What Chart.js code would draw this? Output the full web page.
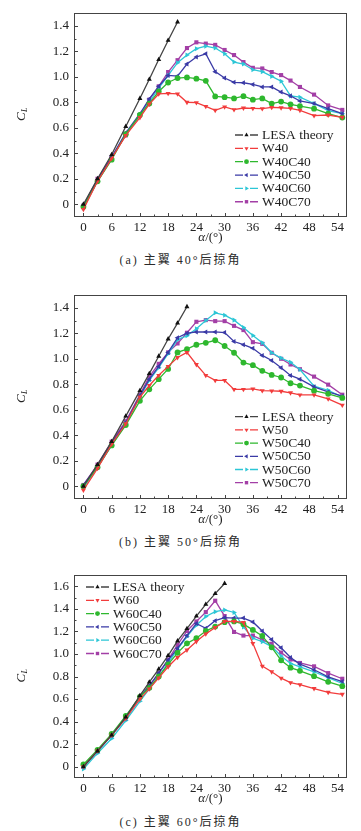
<!DOCTYPE html>
<html>
<head>
<meta charset="utf-8">
<script src="https://cdn.jsdelivr.net/npm/chart.js@4.4.0/dist/chart.umd.min.js"></script>
<style>
  html, body { margin: 0; padding: 0; background: #fff; }
  body { width: 361px; height: 831px; position: relative; overflow: hidden; }
  canvas { position: absolute; left: 0; }
  .cap {
    position: absolute; left: 0; width: 361px; text-align: center;
    font: 12px 'Liberation Serif', 'Noto Sans CJK SC', serif;
    color: #2a2a2a; letter-spacing: 2px;
  }
</style>
</head>
<body>
<canvas id="ca" width="361" height="250" style="top:0"></canvas>
<div class="cap" style="top:250px">(a) 主翼 40°后掠角</div>
<canvas id="cb" width="361" height="250" style="top:280px"></canvas>
<div class="cap" style="top:532px">(b) 主翼 50°后掠角</div>
<canvas id="cc" width="361" height="250" style="top:560px"></canvas>
<div class="cap" style="top:812px">(c) 主翼 60°后掠角</div>

<script>
// angle of attack, deg (shared by all series)
const alpha = [0, 3, 6, 9, 12, 14, 16, 18, 20, 22, 24, 26, 28, 30, 32, 34, 36, 38, 40, 42, 44, 46, 49, 52, 55];
const xTicks = [0, 6, 12, 18, 24, 30, 36, 42, 48, 54];
const yTicksAB = [0, 0.2, 0.4, 0.6, 0.8, 1.0, 1.2, 1.4];
const yTicksC = [0, 0.2, 0.4, 0.6, 0.8, 1.0, 1.2, 1.4, 1.6];

// (a) 40 deg sweep
const lesaA = [0, 0.20, 0.39, 0.61, 0.83, 0.98, 1.135, 1.285, 1.43];
const w40 = [-0.04, 0.18, 0.36, 0.54, 0.68, 0.785, 0.865, 0.87, 0.865, 0.80, 0.797, 0.768, 0.737, 0.763, 0.742, 0.755, 0.752, 0.75, 0.76, 0.757, 0.752, 0.737, 0.695, 0.70, 0.682];
const w40c40 = [-0.02, 0.18, 0.35, 0.55, 0.70, 0.79, 0.885, 0.955, 0.99, 0.995, 0.985, 0.968, 0.846, 0.84, 0.83, 0.848, 0.82, 0.83, 0.79, 0.805, 0.784, 0.77, 0.75, 0.71, 0.68];
const w40c50 = [-0.01, 0.19, 0.37, 0.56, 0.71, 0.826, 0.925, 1.01, 1.005, 1.10, 1.155, 1.18, 1.04, 0.99, 0.956, 0.953, 0.94, 0.92, 0.92, 0.88, 0.85, 0.81, 0.79, 0.75, 0.71];
const w40c60 = [-0.03, 0.18, 0.36, 0.55, 0.70, 0.80, 0.91, 1.01, 1.11, 1.17, 1.22, 1.24, 1.225, 1.18, 1.115, 1.10, 1.055, 1.04, 1.003, 0.965, 0.85, 0.84, 0.79, 0.735, 0.71];
const w40c70 = [-0.01, 0.20, 0.37, 0.54, 0.70, 0.82, 0.925, 1.037, 1.13, 1.225, 1.27, 1.26, 1.25, 1.21, 1.17, 1.115, 1.07, 1.065, 1.037, 1.013, 0.97, 0.92, 0.86, 0.775, 0.74];

// (b) 50 deg sweep
const lesaB = [0, 0.17, 0.35, 0.55, 0.75, 0.883, 1.02, 1.155, 1.28, 1.408];
const w50 = [-0.03, 0.14, 0.33, 0.49, 0.70, 0.79, 0.87, 0.94, 1.01, 1.05, 0.955, 0.87, 0.83, 0.83, 0.76, 0.76, 0.764, 0.75, 0.748, 0.745, 0.733, 0.717, 0.717, 0.685, 0.636];
const w50c40 = [0.0, 0.15, 0.32, 0.48, 0.67, 0.76, 0.84, 0.92, 1.05, 1.075, 1.11, 1.125, 1.145, 1.10, 1.047, 0.97, 0.95, 0.905, 0.873, 0.853, 0.808, 0.79, 0.75, 0.725, 0.693];
const w50c50 = [0.01, 0.16, 0.34, 0.50, 0.71, 0.84, 0.94, 1.05, 1.165, 1.20, 1.21, 1.21, 1.21, 1.205, 1.135, 1.11, 1.082, 1.026, 0.986, 0.93, 0.869, 0.84, 0.78, 0.74, 0.706];
const w50c60 = [-0.01, 0.15, 0.32, 0.49, 0.70, 0.83, 0.93, 1.04, 1.15, 1.18, 1.235, 1.30, 1.36, 1.342, 1.303, 1.245, 1.183, 1.125, 1.047, 1.005, 0.973, 0.916, 0.785, 0.753, 0.70];
const w50c70 = [0.01, 0.17, 0.35, 0.51, 0.72, 0.86, 0.96, 1.05, 1.12, 1.204, 1.29, 1.303, 1.295, 1.295, 1.258, 1.225, 1.13, 1.117, 1.047, 1.0, 0.955, 0.918, 0.86, 0.797, 0.718];

// (c) 60 deg sweep
const lesaC = [0, 0.14, 0.28, 0.44, 0.63, 0.75, 0.865, 0.985, 1.115, 1.225, 1.335, 1.44, 1.535, 1.625];
const w60 = [0.0, 0.14, 0.28, 0.43, 0.60, 0.69, 0.788, 0.886, 0.97, 1.035, 1.11, 1.178, 1.234, 1.288, 1.288, 1.28, 1.094, 0.892, 0.842, 0.785, 0.745, 0.728, 0.693, 0.66, 0.642];
const w60c40 = [0.02, 0.15, 0.29, 0.45, 0.62, 0.70, 0.80, 0.907, 1.01, 1.094, 1.139, 1.204, 1.243, 1.282, 1.288, 1.264, 1.213, 1.16, 1.059, 0.943, 0.878, 0.85, 0.803, 0.753, 0.714];
const w60c50 = [0.01, 0.14, 0.28, 0.43, 0.62, 0.72, 0.83, 0.946, 1.05, 1.163, 1.27, 1.228, 1.295, 1.322, 1.318, 1.318, 1.284, 1.204, 1.127, 1.055, 0.968, 0.91, 0.86, 0.797, 0.755];
const w60c60 = [-0.02, 0.12, 0.25, 0.41, 0.58, 0.69, 0.80, 0.92, 1.04, 1.154, 1.255, 1.332, 1.375, 1.39, 1.368, 1.24, 1.139, 1.109, 1.065, 0.982, 0.916, 0.886, 0.842, 0.79, 0.738];
const w60c70 = [0.0, 0.14, 0.28, 0.44, 0.62, 0.71, 0.83, 0.95, 1.08, 1.204, 1.288, 1.371, 1.472, 1.336, 1.195, 1.163, 1.163, 1.124, 1.09, 1.012, 0.95, 0.92, 0.89, 0.83, 0.78];

// marker/line styles in legend order
const styles = [
  { line: '#444', mark: '#111', pointStyle: 'triangle', rot: 0 },
  { line: '#f23c3c', mark: '#f23c3c', pointStyle: 'triangle', rot: 180 },
  { line: '#2eb82e', mark: '#2eb82e', pointStyle: 'circle', rot: 0 },
  { line: '#3a3aa6', mark: '#3a3aa6', pointStyle: 'triangle', rot: -90 },
  { line: '#2cc6d6', mark: '#2cc6d6', pointStyle: 'triangle', rot: 90 },
  { line: '#a33fa6', mark: '#a33fa6', pointStyle: 'rect', rot: 0 }
];

const SERIF = '"Liberation Serif", "Times New Roman", serif';

const framePlugin = {
  id: 'frame',
  afterDatasetsDraw(chart, args, o) {
    const { ctx, chartArea: a, scales: { x, y } } = chart;
    ctx.save();
    ctx.strokeStyle = '#444';
    ctx.lineWidth = 1;
    ctx.strokeRect(Math.round(a.left) + 0.5, Math.round(a.top) + 0.5,
      Math.round(a.right - a.left) - 1, Math.round(a.bottom - a.top) - 1);

    // inward ticks, major + minor
    ctx.beginPath();
    o.yTicks.forEach(v => {
      const py = Math.round(y.getPixelForValue(v)) + 0.5;
      ctx.moveTo(a.left, py); ctx.lineTo(a.left + 4, py);
      const m = Math.round(y.getPixelForValue(v + 0.1)) + 0.5;
      if (v + 0.1 < y.max - 0.01) { ctx.moveTo(a.left, m); ctx.lineTo(a.left + 2.5, m); }
    });
    xTicks.forEach(v => {
      const px = Math.round(x.getPixelForValue(v)) + 0.5;
      ctx.moveTo(px, a.bottom); ctx.lineTo(px, a.bottom - 4);
      const m = Math.round(x.getPixelForValue(v + 3)) + 0.5;
      if (v + 3 < x.max) { ctx.moveTo(m, a.bottom); ctx.lineTo(m, a.bottom - 2.5); }
    });
    ctx.stroke();

    // axis titles
    ctx.fillStyle = '#222';
    ctx.textBaseline = 'middle';
    ctx.save();
    ctx.translate(22, (a.top + a.bottom) / 2);
    ctx.rotate(-Math.PI / 2);
    ctx.font = 'italic 13px ' + SERIF;
    ctx.textAlign = 'left';
    ctx.fillText('C', -6, 0);
    ctx.font = 'italic 8px ' + SERIF;
    ctx.fillText('L', 3, 3);
    ctx.restore();

    ctx.font = 'italic 13px ' + SERIF;
    const w1 = ctx.measureText('α').width;
    ctx.font = '13px ' + SERIF;
    const w2 = ctx.measureText('/(°)').width;
    const cx = (a.left + a.right) / 2 - (w1 + w2) / 2;
    const ty = a.bottom + 21;
    ctx.textAlign = 'left';
    ctx.font = 'italic 13px ' + SERIF;
    ctx.fillText('α', cx, ty);
    ctx.font = '13px ' + SERIF;
    ctx.fillText('/(°)', cx + w1, ty);

    // legend
    const L = o.legend;
    chart.data.datasets.forEach((ds, i) => {
      const st = styles[i];
      const ly = L.y + i * L.dy;
      ctx.strokeStyle = st.line;
      ctx.lineWidth = 1.3;
      ctx.beginPath();
      ctx.moveTo(L.x, ly); ctx.lineTo(L.x + 8, ly);
      ctx.moveTo(L.x + 15, ly); ctx.lineTo(L.x + 23, ly);
      ctx.stroke();
      ctx.fillStyle = st.mark;
      ctx.strokeStyle = st.mark;
      Chart.helpers.drawPoint(ctx, { pointStyle: st.pointStyle, rotation: st.rot, radius: 2.4, borderWidth: 0 }, L.x + 11.5, ly);
      ctx.fillStyle = '#222';
      ctx.font = '13.5px ' + SERIF;
      ctx.textAlign = 'left';
      ctx.fillText(ds.label, L.x + 27, ly + 0.5);
    });
    ctx.restore();
  }
};

function series(label, vals, i) {
  const st = styles[i];
  return {
    label,
    data: vals.map((v, k) => ({ x: alpha[k], y: v })),
    borderColor: st.line,
    borderWidth: 1.3,
    pointStyle: st.pointStyle,
    pointRotation: st.rot,
    pointRadius: 2.9,
    pointBorderWidth: 0,
    pointBackgroundColor: st.mark,
    pointBorderColor: st.mark,
    tension: 0,
    fill: false
  };
}

function makeChart(id, cfg) {
  new Chart(document.getElementById(id), {
    type: 'line',
    data: { datasets: cfg.sets.map((s, i) => series(s[0], s[1], i)) },
    options: {
      responsive: false,
      animation: false,
      events: [],
      layout: { padding: { top: cfg.padTop, right: 14, left: 0, bottom: 0 } },
      plugins: {
        legend: { display: false },
        tooltip: { enabled: false },
        frame: { yTicks: cfg.yTicks, legend: cfg.legend }
      },
      scales: {
        x: {
          type: 'linear', min: -2, max: 56,
          afterBuildTicks: s => { s.ticks = xTicks.map(v => ({ value: v })); },
          afterFit: s => { s.height = cfg.xAxisH; },
          grid: { display: false, drawTicks: false },
          border: { display: false },
          ticks: { font: { family: SERIF, size: 13 }, color: '#222', padding: 3, maxRotation: 0, autoSkip: false }
        },
        y: {
          min: -0.1, max: cfg.yMax,
          afterBuildTicks: s => { s.ticks = cfg.yTicks.map(v => ({ value: v })); },
          afterFit: s => { s.width = 74; },
          grid: { display: false, drawTicks: false },
          border: { display: false },
          ticks: {
            font: { family: SERIF, size: 13 }, color: '#222', padding: 5,
            callback: v => (Math.abs(v) < 1e-9 ? '0' : v.toFixed(1))
          }
        }
      }
    },
    plugins: [framePlugin]
  });
}

makeChart('ca', {
  padTop: 13, xAxisH: 33, yMax: 1.5, yTicks: yTicksAB,
  legend: { x: 235, y: 135, dy: 13.35 },
  sets: [['LESA theory', lesaA], ['W40', w40], ['W40C40', w40c40], ['W40C50', w40c50], ['W40C60', w40c60], ['W40C70', w40c70]]
});
makeChart('cb', {
  padTop: 15, xAxisH: 31, yMax: 1.5, yTicks: yTicksAB,
  legend: { x: 235, y: 416.7 - 280, dy: 13.2 },
  sets: [['LESA theory', lesaB], ['W50', w50], ['W50C40', w50c40], ['W50C50', w50c50], ['W50C60', w50c60], ['W50C70', w50c70]]
});
makeChart('cc', {
  padTop: 15, xAxisH: 32, yMax: 1.7, yTicks: yTicksC,
  legend: { x: 86, y: 587 - 560, dy: 13.3 },
  sets: [['LESA theory', lesaC], ['W60', w60], ['W60C40', w60c40], ['W60C50', w60c50], ['W60C60', w60c60], ['W60C70', w60c70]]
});
</script>
</body>
</html>
